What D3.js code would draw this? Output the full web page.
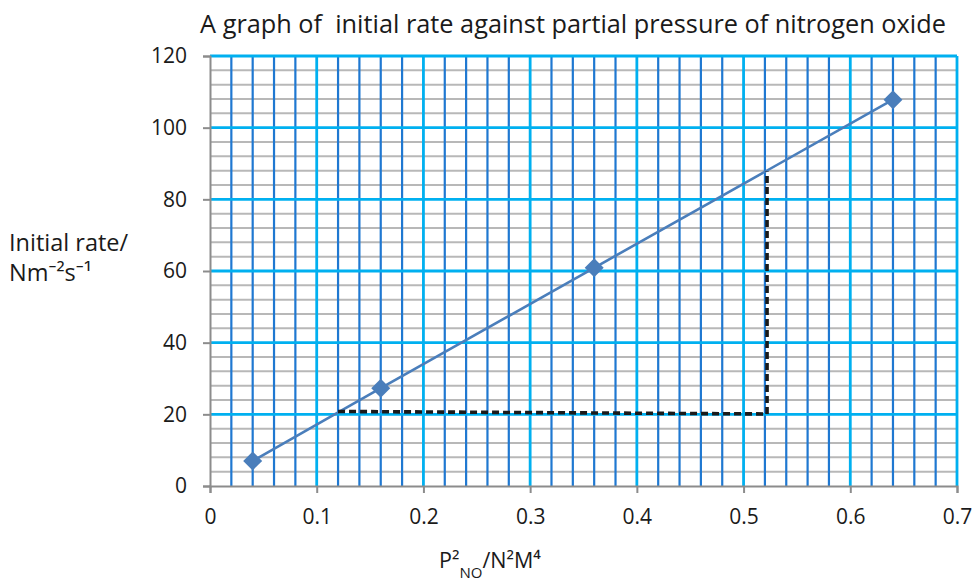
<!DOCTYPE html>
<html>
<head>
<meta charset="utf-8">
<script src="https://cdn.jsdelivr.net/npm/d3@7"></script>
<style>
  html, body { margin: 0; padding: 0; background: #fff; }
  svg { display: block; font-family: "Open Sans", "Noto Sans", sans-serif; }
</style>
</head>
<body>
<svg id="chart" width="974" height="585"></svg>
<script>
// ---- data ----
const title = "A graph of  initial rate against partial pressure of nitrogen oxide";
const pressureSq = [0.04, 0.16, 0.36, 0.64];
const initialRate = [7, 27.3, 60.9, 107.8];
const gradientX = [0.12, 0.522, 0.522];
const gradientY = [20.8, 20.1, 87.8];
const xTicks = [0, 0.1, 0.2, 0.3, 0.4, 0.5, 0.6, 0.7];
const yTicks = [0, 20, 40, 60, 80, 100, 120];
const xMinorStep = 0.02;
const yMinorStep = 4;

// ---- layout ----
const svg = d3.select("#chart");
const x = d3.scaleLinear().domain([0, 0.7]).range([210, 957]);
const y = d3.scaleLinear().domain([0, 120]).range([486, 56]);

const xMinor = d3.range(0, 0.7 + 1e-9, xMinorStep).filter(v => Math.abs(Math.round(v * 10) - v * 10) > 1e-6);
const yMinor = d3.range(0, 120 + 1e-9, yMinorStep).filter(v => v % 20 !== 0);

const grid = svg.append("g");
// horizontal minor (gray)
grid.selectAll(".hm").data(yMinor).join("line")
  .attr("x1", x(0)).attr("x2", x(0.7))
  .attr("y1", d => y(d)).attr("y2", d => y(d))
  .attr("stroke", "#b8b8b8").attr("stroke-width", 2);
// vertical minor (blue)
grid.selectAll(".vm").data(xMinor).join("line")
  .attr("x1", d => x(d)).attr("x2", d => x(d))
  .attr("y1", y(0)).attr("y2", y(120))
  .attr("stroke", "#1f78d1").attr("stroke-width", 2.2);
// horizontal major (cyan)
grid.selectAll(".hM").data(yTicks.filter(d => d > 0)).join("line")
  .attr("x1", x(0)).attr("x2", x(0.7))
  .attr("y1", d => y(d)).attr("y2", d => y(d))
  .attr("stroke", "#00b0f0").attr("stroke-width", 2.8);
// vertical major (cyan)
grid.selectAll(".vM").data(xTicks.filter(d => d > 0)).join("line")
  .attr("x1", d => x(d)).attr("x2", d => x(d))
  .attr("y1", y(0)).attr("y2", y(120))
  .attr("stroke", "#00b0f0").attr("stroke-width", 2.8);

// axes
const yAxis = d3.axisLeft(y).tickValues(yTicks).tickSize(7).tickPadding(16).tickFormat(d3.format("d"));
const gy = svg.append("g").attr("transform", `translate(${x(0)},0)`).call(yAxis);
const xAxis = d3.axisBottom(x).tickValues(xTicks).tickSize(7).tickPadding(16)
  .tickFormat(d => d === 0 ? "0" : d3.format(".1f")(d));
const gx = svg.append("g").attr("transform", `translate(0,${y(0)})`).call(xAxis);
[gx, gy].forEach(g => {
  g.attr("font-family", "'Open Sans', sans-serif").attr("font-size", 21);
  g.select(".domain").attr("stroke", "#8c8c8c").attr("stroke-width", 2);
  g.selectAll(".tick line").attr("stroke", "#8c8c8c").attr("stroke-width", 2);
  g.selectAll(".tick text").attr("fill", "#1a1a1a");
});

// data line
const pts = pressureSq.map((p, i) => [p, initialRate[i]]);
svg.append("path").datum(pts)
  .attr("fill", "none").attr("stroke", "#4a7ebb").attr("stroke-width", 2.6)
  .attr("d", d3.line().x(d => x(d[0])).y(d => y(d[1])));

// gradient construction (dashed)
const gpts = gradientX.map((v, i) => [v, gradientY[i]]);
svg.append("path").datum(gpts)
  .attr("fill", "none").attr("stroke", "#1a1a1a").attr("stroke-width", 3.6)
  .attr("stroke-dasharray", "7,4")
  .attr("d", d3.line().x(d => x(d[0])).y(d => y(d[1])));

// markers
svg.selectAll(".pt").data(pts).join("path")
  .attr("transform", d => `translate(${x(d[0])},${y(d[1])})`)
  .attr("d", d3.symbol().type(d3.symbolDiamond2).size(230))
  .attr("fill", "#4a7ebb");

// title
svg.append("text").attr("x", 573).attr("y", 33).attr("text-anchor", "middle")
  .attr("xml:space", "preserve").style("white-space", "pre")
  .attr("font-size", 25.3).attr("fill", "#1a1a1a").text(title);

// y label
const yl = svg.append("text").attr("x", 9).attr("y", 251).attr("font-size", 23.5).attr("fill", "#1a1a1a");
yl.append("tspan").attr("x", 9).text("Initial rate/");
yl.append("tspan").attr("x", 9).attr("dy", 30).text("Nm⁻²s⁻¹");

// x label
const xl = svg.append("text").attr("x", 439).attr("y", 568).attr("font-size", 21.5).attr("fill", "#1a1a1a");
xl.append("tspan").text("P²");
xl.append("tspan").attr("font-size", 15).attr("dy", 10).text("NO");
xl.append("tspan").attr("dy", -10).text("/N²M⁴");
</script>
</body>
</html>
